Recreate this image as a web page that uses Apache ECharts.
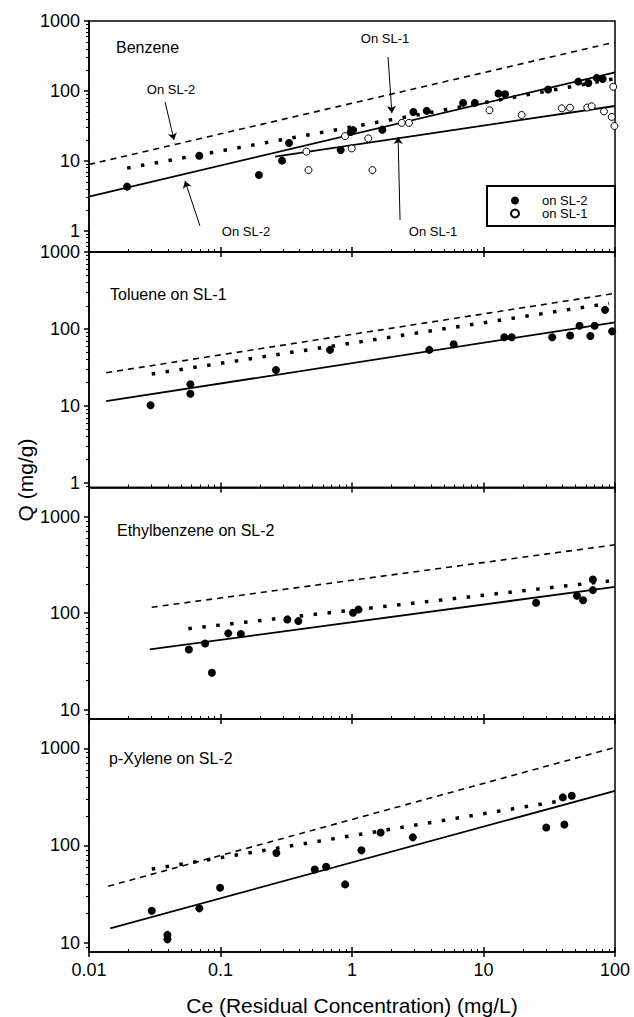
<!DOCTYPE html>
<html><head><meta charset="utf-8">
<script src="https://cdn.jsdelivr.net/npm/echarts@6/dist/echarts.min.js"></script>
<style>html,body{margin:0;padding:0;background:#fff}#chart{width:634px;height:1017px}</style>
</head><body><div id="chart"></div>
<script>
// ---------------- data ----------------
const xTickValues = [0.01, 0.1, 1, 10, 100];
const yTickValuesUpper = [1, 10, 100, 1000];
const yTickValuesLower = [10, 100, 1000];
const xRange = [0.01, 100];
const yRangeBenzene = [0.5, 1000];
const yRangeToluene = [0.87, 1000];
const yRangeEthylbenzene = [8, 2000];
const yRangeXylene = [8, 2000];

// Benzene
const benzeneOnSL2 = [[0.0195,4.3],[0.069,11.9],[0.196,6.3],[0.294,10.1],[0.332,18.1],[0.82,14.3],[0.977,26],[1.02,27.6],[1.7,28],[2.93,50],[3.7,52],[7.0,67.6],[8.6,67.6],[13.0,92],[14.6,90],[31,105],[52.6,136],[62.7,130],[72.6,154],[80.6,148]];
const benzeneOnSL1 = [[0.45,13.6],[0.467,7.4],[0.885,22.6],[0.995,15.1],[1.33,21],[1.43,7.4],[2.39,35],[2.71,35],[11.1,53],[19.5,45.4],[39.4,56.5],[45.5,57.6],[61.5,58],[66.5,60.4],[82.4,51],[94.4,42.6],[97,115],[99,31.6]];
const benzeneDashed = [[0.01,8.9],[100,500]];
const benzeneDotted = [[0.0195,7.9],[100,150]];
const benzeneFitSL2 = [[0.01,3.1],[100,185]];
const benzeneFitSL1 = [[0.26,11.5],[100,61]];
const benzeneArrows = [
  [[1.88,306],[2.01,48.4]],
  [[0.0379,69.6],[0.0443,19.9]],
  [[0.0698,1.18],[0.0537,5.17]],
  [[2.32,1.43],[2.24,22]]
];

// Toluene
const tolueneOnSL1 = [[0.0294,10.2],[0.059,19.1],[0.059,14.4],[0.264,29.3],[0.68,53.5],[3.87,53.5],[5.93,63.4],[14.4,78],[16.4,78],[33.3,78],[45.6,82],[53.7,110],[65,81],[70,110],[84,177],[95,93]];
const tolueneDashed = [[0.0135,27],[100,290]];
const tolueneDotted = [[0.03,26],[90,215]];
const tolueneFit = [[0.0135,11.5],[100,122]];

// Ethylbenzene
const ethylbenzeneOnSL2 = [[0.0575,42],[0.0764,48.5],[0.086,24.1],[0.1145,61.7],[0.1427,60.7],[0.322,86],[0.391,82.6],[1.018,101],[1.12,109],[25.1,128],[51.4,151],[57.2,136],[67.9,223],[67.9,173]];
const ethylbenzeneDashed = [[0.03,115],[100,510]];
const ethylbenzeneDotted = [[0.057,69],[90,215]];
const ethylbenzeneFit = [[0.029,42],[100,187]];

// p-Xylene
const pXyleneOnSL2 = [[0.030,21.3],[0.0395,12],[0.0395,10.8],[0.069,22.5],[0.0993,36.7],[0.266,83.6],[0.521,56.5],[0.636,60.3],[0.887,39.7],[1.18,89],[1.65,136],[2.9,121],[30,153],[40.1,312],[41.2,164],[46.9,324]];
const pXyleneDashed = [[0.014,38],[100,1020]];
const pXyleneDotted = [[0.03,57],[40,290]];
const pXyleneFit = [[0.0145,14],[100,365]];

// ---------------- layout / style ----------------
const FONT = 'Liberation Sans, Arial, Helvetica, sans-serif';
const gridLayout = [
  {top: 21, height: 231},
  {top: 252, height: 235.5},
  {top: 487.5, height: 231.5},
  {top: 719, height: 233}
];
const yRanges = [yRangeBenzene, yRangeToluene, yRangeEthylbenzene, yRangeXylene];
const yLabelSets = [yTickValuesUpper, yTickValuesUpper, yTickValuesLower, yTickValuesLower];

function minorValues(min, max) {
  const out = [];
  for (let e = -3; e <= 4; e++) {
    for (let m = 2; m <= 9; m++) {
      const v = +(m * Math.pow(10, e)).toPrecision(4);
      if (v > min && v < max) out.push(v);
    }
  }
  return out;
}

const grids = gridLayout.map(g => ({
  left: 89, right: 19, top: g.top, height: g.height,
  show: true, borderColor: '#000', borderWidth: 1.5, backgroundColor: 'transparent',
  containLabel: false, outerBoundsMode: 'none'
}));

const blackLine = {color: '#000', width: 1.5};
const xAxes = [];
const yAxes = [];
for (let i = 0; i < 4; i++) {
  const base = {type: 'log', logBase: 10, gridIndex: i, min: xRange[0], max: xRange[1], position: 'bottom',
    splitLine: {show: false}, minorTick: {show: false}, minorSplitLine: {show: false}};
  xAxes.push(Object.assign({}, base, {
    axisLine: {show: true, onZero: false, lineStyle: blackLine},
    axisTick: {show: true, customValues: xTickValues, inside: false, length: 5, lineStyle: blackLine},
    axisLabel: {show: i === 3, customValues: xTickValues, formatter: v => String(v), color: '#000', fontSize: 18, fontFamily: FONT, margin: 9},
    name: i === 3 ? 'Ce (Residual Concentration) (mg/L)' : '',
    nameLocation: 'middle', nameGap: 43,
    nameTextStyle: {color: '#000', fontSize: 21, fontFamily: FONT}
  }));
  xAxes.push(Object.assign({}, base, {
    axisLine: {show: false},
    axisTick: {show: true, customValues: xTickValues, inside: true, length: 5, lineStyle: blackLine},
    axisLabel: {show: false}
  }));
  xAxes.push(Object.assign({}, base, {
    axisLine: {show: false},
    axisTick: {show: true, customValues: minorValues(xRange[0], xRange[1]), inside: true, length: 3, lineStyle: {color: '#000', width: 1}},
    axisLabel: {show: false}
  }));

  const ybase = {type: 'log', logBase: 10, gridIndex: i, min: yRanges[i][0], max: yRanges[i][1], position: 'left',
    splitLine: {show: false}, minorTick: {show: false}, minorSplitLine: {show: false}};
  yAxes.push(Object.assign({}, ybase, {
    axisLine: {show: true, onZero: false, lineStyle: blackLine},
    axisTick: {show: true, customValues: yLabelSets[i], inside: false, length: 5, lineStyle: blackLine},
    axisLabel: {show: true, customValues: yLabelSets[i], formatter: v => String(v), color: '#000', fontSize: 18, fontFamily: FONT, margin: 9}
  }));
  yAxes.push(Object.assign({}, ybase, {
    axisLine: {show: false},
    axisTick: {show: true, customValues: minorValues(yRanges[i][0], yRanges[i][1]), inside: false, length: 3, lineStyle: {color: '#000', width: 1}},
    axisLabel: {show: false}
  }));
}

const dashedStyle = {color: '#000', width: 1.6, type: [6, 5], opacity: 1};
const dottedStyle = {color: '#000', width: 3.5, type: [3.5, 10.5], cap: 'butt', opacity: 1};
const solidStyle = {color: '#000', width: 1.8, type: 'solid', opacity: 1};

function lineSeries(name, data, panel, style, extra) {
  return Object.assign({
    name, type: 'line', data, xAxisIndex: panel * 3, yAxisIndex: panel * 2,
    symbol: 'none', showSymbol: false, lineStyle: style, silent: true, z: 2,
    emphasis: {disabled: true}
  }, extra || {});
}
function filledScatter(name, data, panel) {
  return {name, type: 'scatter', data, xAxisIndex: panel * 3, yAxisIndex: panel * 2,
    symbol: 'circle', symbolSize: 8, itemStyle: {color: '#000', opacity: 1}, z: 4, silent: true, emphasis: {disabled: true}};
}
function openScatter(name, data, panel) {
  return {name, type: 'scatter', data, xAxisIndex: panel * 3, yAxisIndex: panel * 2,
    symbol: 'circle', symbolSize: 7, itemStyle: {color: '#fff', borderColor: '#000', borderWidth: 1, opacity: 1}, z: 4, silent: true, emphasis: {disabled: true}};
}

const arrowMarkLine = {
  silent: true, animation: false,
  symbol: ['none', 'arrow'], symbolSize: 7,
  lineStyle: {color: '#000', width: 1, type: 'solid', opacity: 1},
  label: {show: false}, emphasis: {disabled: true},
  data: benzeneArrows.map(a => [{coord: a[0]}, {coord: a[1]}])
};

const series = [
  lineSeries('Benzene dashed', benzeneDashed, 0, dashedStyle),
  lineSeries('Benzene dotted', benzeneDotted, 0, dottedStyle),
  lineSeries('Benzene fit SL-2', benzeneFitSL2, 0, solidStyle, {markLine: arrowMarkLine}),
  lineSeries('Benzene fit SL-1', benzeneFitSL1, 0, solidStyle),
  openScatter('on SL-1', benzeneOnSL1, 0),
  filledScatter('on SL-2', benzeneOnSL2, 0),

  lineSeries('Toluene dashed', tolueneDashed, 1, dashedStyle),
  lineSeries('Toluene dotted', tolueneDotted, 1, dottedStyle),
  lineSeries('Toluene fit', tolueneFit, 1, solidStyle),
  filledScatter('Toluene on SL-1', tolueneOnSL1, 1),

  lineSeries('Ethylbenzene dashed', ethylbenzeneDashed, 2, dashedStyle),
  lineSeries('Ethylbenzene dotted', ethylbenzeneDotted, 2, dottedStyle),
  lineSeries('Ethylbenzene fit', ethylbenzeneFit, 2, solidStyle),
  filledScatter('Ethylbenzene on SL-2', ethylbenzeneOnSL2, 2),

  lineSeries('p-Xylene dashed', pXyleneDashed, 3, dashedStyle),
  lineSeries('p-Xylene dotted', pXyleneDotted, 3, dottedStyle),
  lineSeries('p-Xylene fit', pXyleneFit, 3, solidStyle),
  filledScatter('p-Xylene on SL-2', pXyleneOnSL2, 3)
];

function txt(text, x, y, size, align, rotation) {
  return {type: 'text', x, y, rotation: rotation || 0, silent: true, z: 10,
    style: {text, fontSize: size, fontFamily: FONT, fill: '#000', align: align || 'left', verticalAlign: 'middle'}};
}

const graphics = [
  {type: 'rect', shape: {x: 487, y: 186, width: 128, height: 40}, style: {fill: 'transparent', stroke: '#000', lineWidth: 2}, silent: true, z: 5},
  txt('Benzene', 116, 47, 16),
  txt('On SL-1', 385, 38, 13, 'center'),
  txt('On SL-2', 171, 89, 13, 'center'),
  txt('On SL-2', 246, 231, 13, 'center'),
  txt('On SL-1', 433, 231, 13, 'center'),
  txt('Toluene on SL-1', 110, 294, 16),
  txt('Ethylbenzene on SL-2', 117, 530, 16),
  txt('p-Xylene on SL-2', 109, 758, 16),
  txt('Q (mg/g)', 25, 480, 21, 'center', Math.PI / 2)
];

const chart = echarts.init(document.getElementById('chart'), null, {renderer: 'svg', width: 634, height: 1017});
chart.setOption({
  animation: false,
  backgroundColor: '#fff',
  textStyle: {fontFamily: FONT},
  legend: {
    data: ['on SL-2', 'on SL-1'], orient: 'vertical', left: 510, top: 194,
    itemWidth: 12, itemHeight: 8, itemGap: 0, padding: 0, selectedMode: false,
    textStyle: {fontSize: 13, fontFamily: FONT, color: '#000', lineHeight: 12, padding: [0, 0, 0, 16]}
  },
  grid: grids,
  xAxis: xAxes,
  yAxis: yAxes,
  series,
  graphic: graphics
});
</script>
</body></html>
